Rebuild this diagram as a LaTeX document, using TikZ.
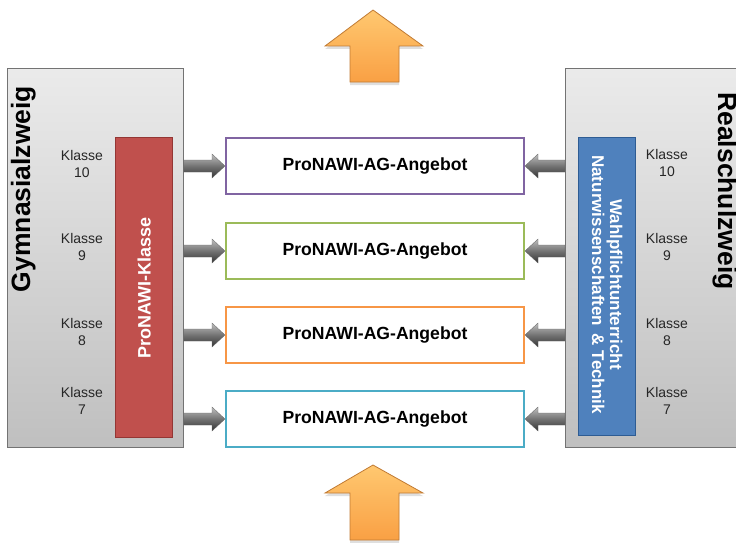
\documentclass[tikz,border=0pt]{standalone}
\usepackage{fontspec}
\setmainfont{Liberation Sans}
\usetikzlibrary{calc,shadows}
\definecolor{boxpurple}{HTML}{8064A2}
\definecolor{boxgreen}{HTML}{9BBB59}
\definecolor{boxorange}{HTML}{F79646}
\definecolor{boxaqua}{HTML}{4BACC6}
\definecolor{barred}{HTML}{C0504D}
\definecolor{barredline}{HTML}{943634}
\definecolor{barblue}{HTML}{4F81BD}
\definecolor{barblueline}{HTML}{2E5C93}
\definecolor{orangetop}{HTML}{FFC870}
\definecolor{orangebot}{HTML}{F9A044}
\definecolor{orangeline}{HTML}{C07A33}
\newcommand\fatarrow[2]{%
  \path[grayarrow] let \p1=(#1), \p2=(#2), \n1={sign(\x2-\x1)} in
   (\x1,\y2+6pt) -- (\x2-\n1*13pt,\y2+6pt) -- (\x2-\n1*13pt,\y2+12pt) -- (\x2,\y2)
   -- (\x2-\n1*13pt,\y2-12pt) -- (\x2-\n1*13pt,\y2-6pt) -- (\x1,\y2-6pt) -- cycle;}
\newcommand\uparrowshape[3]{% tip y, head base y, bottom y
  \path[orangearrow] (373,#1) -- (423,#2) -- (399,#2) -- (399,#3) -- (350,#3)
   -- (350,#2) -- (325,#2) -- cycle;}
\begin{document}
\begin{tikzpicture}[x=1pt,y=-1pt,
  graybox/.style={draw=black!55, line width=0.8pt, top color=black!8, bottom color=black!25,
    inner sep=0pt, anchor=north west},
  redbar/.style={draw=barredline, line width=1.2pt, fill=barred, inner sep=0pt, anchor=north west,
    minimum width=57, minimum height=300},
  bluebar/.style={draw=barblueline, line width=1.2pt, fill=barblue, inner sep=0pt, anchor=north west,
    minimum width=57, minimum height=298},
  agbox/.style={draw=#1, line width=2pt, fill=white, minimum width=298, minimum height=56,
    inner sep=0pt, font=\fontsize{17.6}{20}\selectfont\bfseries, text=black},
  klasse/.style={align=center, font=\fontsize{14}{17}\selectfont, text=black!85, inner sep=0pt},
  branch/.style={font=\fontsize{26.5}{30}\selectfont\bfseries, text=black, inner sep=0pt, anchor=base},
  grayarrow/.style={top color=black!25, bottom color=black!80, middle color=black!55, draw=black!60, line width=0.3pt},
  orangearrow/.style={top color=orangetop, bottom color=orangebot, draw=orangeline, line width=0.8pt,
    drop shadow={opacity=0.25, shadow xshift=0pt, shadow yshift=-3pt}}
]
\useasboundingbox (0,0) rectangle (736,543);
\clip (0,0) rectangle (736,543);

% side boxes
\node[graybox, minimum width=176, minimum height=379] (G) at (7,68) {};
\node[graybox, minimum width=185, minimum height=379] (R) at (565,68) {};

% branch titles
\node[branch, rotate=90] (gt) at (30,189) {Gymnasialzweig};
\node[branch, rotate=-90] (rt) at (718,191) {Realschulzweig};

% bars
\node[redbar] (red) at (115,137) {};
\node[text=white, font=\fontsize{18}{20}\selectfont\bfseries, rotate=90, inner sep=0pt] (redt) at (red.center) {ProNAWI-Klasse};
\node[bluebar] (blue) at (578,137) {};
\node[text=white, font=\fontsize{17}{18}\selectfont\bfseries, rotate=-90, align=center, inner sep=0pt] (bluet) at ($(blue.center)+(0,-2)$)
  {Wahlpflichtunterricht\\Naturwissenschaften\hspace{3pt} \& Technik};

% class labels
\node[klasse] (l10) at (82,163.5) {Klasse\\10};
\node[klasse] (l9)  at (82,246.5) {Klasse\\9};
\node[klasse] (l8)  at (82,331.5) {Klasse\\8};
\node[klasse] (l7)  at (82,401) {Klasse\\7};
\node[klasse] (r10) at (667,163) {Klasse\\10};
\node[klasse] (r9)  at (667,246.5) {Klasse\\9};
\node[klasse] (r8)  at (667,331.5) {Klasse\\8};
\node[klasse] (r7)  at (667,400.5) {Klasse\\7};

% AG boxes
\node[agbox=boxpurple] (b1) at (375,166) {ProNAWI-AG-Angebot};
\node[agbox=boxgreen]  (b2) at (375,251) {ProNAWI-AG-Angebot};
\node[agbox=boxorange] (b3) at (375,335) {ProNAWI-AG-Angebot};
\node[agbox=boxaqua]   (b4) at (375,419) {ProNAWI-AG-Angebot};

% gray connectors
\foreach \b in {b1,b2,b3,b4}{
  \fatarrow{G.east}{\b.west}
  \fatarrow{R.west}{\b.east}
}

% orange arrows
\uparrowshape{10}{46}{82}
\uparrowshape{465}{493}{540}
\end{tikzpicture}
\end{document}
